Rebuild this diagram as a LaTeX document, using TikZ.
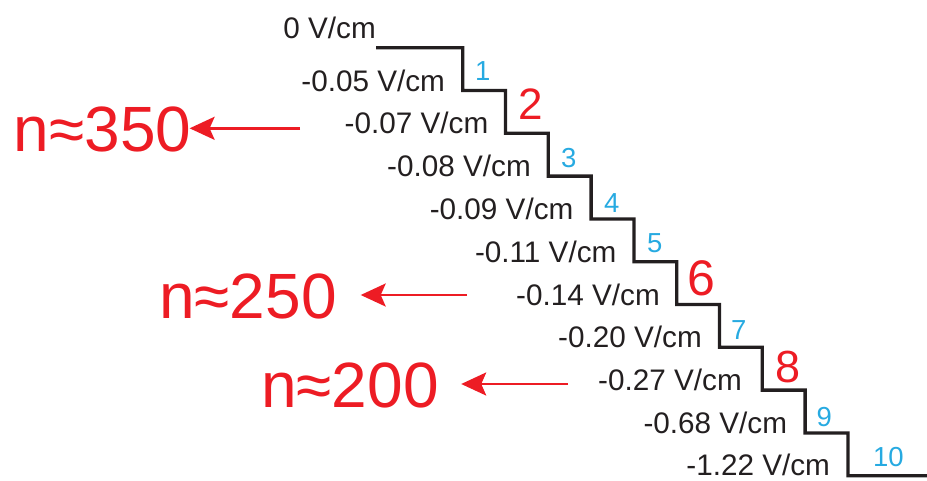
\documentclass[tikz,border=0pt]{standalone}
\usepackage{fontspec}
\setmainfont{Liberation Sans}
\usetikzlibrary{arrows.meta}
\definecolor{stairred}{HTML}{ED1C24}
\definecolor{stairblue}{HTML}{27AAE1}
\definecolor{stairblack}{HTML}{231F20}
\begin{document}
\begin{tikzpicture}[x=1pt,y=-1pt,
  stair/.style={draw=stairblack, line width=3.3pt, line join=miter},
  field/.style={anchor=base east, inner sep=0pt, text=stairblack, font=\fontsize{29.7}{30}\selectfont},
  minor/.style={anchor=base west, inner sep=0pt, text=stairblue, font=\fontsize{27.5}{28}\selectfont},
  major/.style={anchor=base west, inner sep=0pt, text=stairred},
  count/.style={anchor=base west, inner sep=0pt, text=stairred, font=\fontsize{64}{66}\selectfont},
  pointer/.style={draw=stairred, line width=2.6pt, -{Stealth[length=25pt,width=23pt,inset=5pt]}}
]
\useasboundingbox (0,0) rectangle (927,480);
% staircase corners
\coordinate (s0) at (376,47.7);
\foreach \k in {1,...,10} {
  \pgfmathsetmacro\xx{462.7+42.8*(\k-1)}
  \pgfmathsetmacro\ya{47.7+42.8*(\k-1)}
  \pgfmathsetmacro\yb{47.7+42.8*\k}
  \coordinate (t\k) at (\xx,\ya);
  \coordinate (b\k) at (\xx,\yb);
}
\coordinate (send) at (927,475.7);
\draw[stair] (s0) -- (t1) -- (b1) -- (t2) -- (b2) -- (t3) -- (b3) -- (t4) -- (b4)
  -- (t5) -- (b5) -- (t6) -- (b6) -- (t7) -- (b7) -- (t8) -- (b8) -- (t9) -- (b9)
  -- (t10) -- (b10) -- (send);
% field labels
\node[field] (l0) at (376,38.3) {0 V/cm};
\node[field] (l1) at (445.2,91) {-0.05 V/cm};
\node[field] (l2) at (488.5,133.8) {-0.07 V/cm};
\node[field] (l3) at (531,176.6) {-0.08 V/cm};
\node[field] (l4) at (573.6,219.4) {-0.09 V/cm};
\node[field] (l5) at (616.6,262.2) {-0.11 V/cm};
\node[field] (l6) at (660,305) {-0.14 V/cm};
\node[field] (l7) at (702,347.8) {-0.20 V/cm};
\node[field] (l8) at (742,390.6) {-0.27 V/cm};
\node[field] (l9) at (787.3,433.4) {-0.68 V/cm};
\node[field] (l10) at (830.2,475.6) {-1.22 V/cm};
% step numbers
\node[minor] (m1) at (475,80) {1};
\node[major, font=\fontsize{44}{45}\selectfont] (m2) at (518,119.5) {2};
\node[minor] (m3) at (561,167) {3};
\node[minor] (m4) at (604,212.7) {4};
\node[minor] (m5) at (647,252.5) {5};
\node[major, font=\fontsize{50}{52}\selectfont] (m6) at (687,295) {6};
\node[minor] (m7) at (731,339) {7};
\node[major, font=\fontsize{45}{46}\selectfont] (m8) at (775,382) {8};
\node[minor] (m9) at (816.5,426.7) {9};
\node[minor] (m10) at (873,466.7) {10};
% counts
\node[count] (n350) at (13.5,151.7) {n≈350};
\node[count] (n250) at (159,318) {n≈250};
\node[count] (n200) at (261,407) {n≈200};
\coordinate (a350) at (300,128.3);
\coordinate (a250) at (467,295);
\coordinate (a200) at (568,384);
\draw[pointer, shorten >=-1.8pt] (a350) -- (n350.east |- a350);
\draw[pointer, shorten >=23.8pt] (a250) -- (n250.east |- a250);
\draw[pointer, shorten >=22.3pt] (a200) -- (n200.east |- a200);
\end{tikzpicture}
\end{document}
